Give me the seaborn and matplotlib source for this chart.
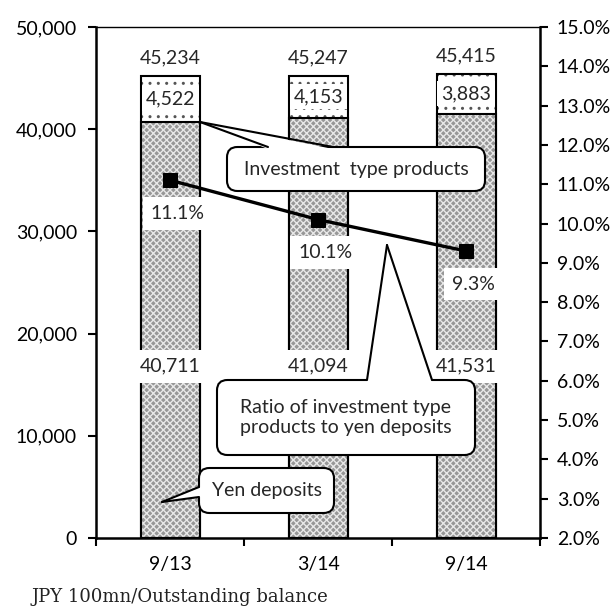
import matplotlib
matplotlib.use("Agg")
import matplotlib.pyplot as plt
import matplotlib.ticker as mticker
from matplotlib.patches import FancyBboxPatch, Polygon
from matplotlib.lines import Line2D
import seaborn as sns
import pandas as pd
import numpy as np

categories = ["9/13", "3/14", "9/14"]
yen_deposits = [40711, 41094, 41531]
investment = [4522, 4153, 3883]
totals = [45234, 45247, 45415]
ratio = [11.1, 10.1, 9.3]
ratio_labels = ["11.1%", "10.1%", "9.3%"]
footer = "JPY 100mn/Outstanding balance"

sns.set_theme(style="white")
plt.rcParams["font.family"] = ["Lato", "DejaVu Sans"]
plt.rcParams["hatch.linewidth"] = 1.0

df = pd.DataFrame({"cat": categories, "yen": yen_deposits, "inv": investment,
                   "total": totals, "ratio": ratio})

W, H = 614, 608
fig = plt.figure(figsize=(W / 100, H / 100), dpi=100)
ax = fig.add_axes([96.5 / W, 1 - 538 / H, (540 - 96.5) / W, (538 - 27) / H])

FS = 14
BW = 0.4
# top segment (investment type products) - total bar with dotted fill
sns.barplot(data=df, x="cat", y="total", order=categories, ax=ax, width=BW,
            color="white", edgecolor="#555555", hatch="..", linewidth=0, saturation=1)
# yen deposits - grey patterned
sns.barplot(data=df, x="cat", y="yen", order=categories, ax=ax, width=BW,
            color="#979797", edgecolor="#e8e8e8", hatch="xxxxx", linewidth=0, saturation=1)
# outlines
sns.barplot(data=df, x="cat", y="total", order=categories, ax=ax, width=BW,
            fill=False, edgecolor="black", linewidth=1.5)
sns.barplot(data=df, x="cat", y="yen", order=categories, ax=ax, width=BW,
            fill=False, edgecolor="black", linewidth=1.5)

ax.set_xlim(-0.5, 2.5)
ax.set_ylim(0, 50000)
ax.yaxis.set_major_locator(mticker.MultipleLocator(10000))
ax.yaxis.set_major_formatter(mticker.FuncFormatter(lambda v, p: f"{int(v):,}"))
ax.set_xlabel("")
ax.set_ylabel("")
ax.xaxis.set_minor_locator(mticker.FixedLocator([-0.5, 0.5, 1.5, 2.5]))
ax.tick_params(axis="x", which="major", length=0, pad=13, labelsize=FS, colors="black")
ax.tick_params(axis="x", which="minor", length=6, width=1.5, direction="out", bottom=True, color="black")
ax.tick_params(axis="y", length=6, width=1.5, direction="out", left=True, labelsize=FS,
               colors="black", pad=8)
for s in ["left", "bottom", "right"]:
    ax.spines[s].set_linewidth(1.8)
    ax.spines[s].set_color("black")
ax.spines["top"].set_linewidth(1.0)
ax.spines["top"].set_color("black")

# value labels
for i in range(len(categories)):
    ax.text(i, totals[i] + 1750, f"{totals[i]:,}", ha="center", va="center", fontsize=FS, zorder=6)
    ax.text(i, yen_deposits[i] + investment[i] / 2, f"{investment[i]:,}", ha="center", va="center",
            fontsize=FS, zorder=6,
            bbox=dict(boxstyle="square,pad=0.2", fc="white", ec="none"))
    ax.text(i, 16800, f"{yen_deposits[i]:,}", ha="center", va="center", fontsize=FS, zorder=6,
            bbox=dict(boxstyle="square,pad=0.4", fc="white", ec="none"))

ax2 = ax.twinx()
sns.lineplot(data=df, x="cat", y="ratio", ax=ax2, color="black", linewidth=2.4,
             marker="s", markersize=10, markeredgecolor="black", markerfacecolor="black")
ax2.set_ylim(2, 15)
ax2.set_xlim(-0.5, 2.5)
ax2.yaxis.set_major_locator(mticker.MultipleLocator(1))
ax2.yaxis.set_major_formatter(mticker.FuncFormatter(lambda v, p: f"{v:.1f}%"))
ax2.set_ylabel("")
ax2.set_xlabel("")
ax2.tick_params(axis="y", length=6, width=1.5, direction="out", right=True, labelsize=FS,
                colors="black", pad=6)
for s in ax2.spines.values():
    s.set_visible(False)

for i in range(len(categories)):
    ax2.annotate(ratio_labels[i], xy=(i, ratio[i]), xytext=(7, -33), textcoords="offset pixels",
                 ha="center", va="center", fontsize=FS, zorder=6,
                 bbox=dict(boxstyle="square,pad=0.4", fc="white", ec="none"))


def F(px, py):
    return (px / W, 1 - py / H)


def callout(x0, y0, x1, y1, tip, ba, bb, text, inset):
    fx0, fy1 = F(x0, y1)
    fx1, fy0 = F(x1, y0)
    box = FancyBboxPatch((fx0, fy1), fx1 - fx0, fy0 - fy1,
                         boxstyle="round,pad=0,rounding_size=0.017",
                         transform=fig.transFigure, fc="white", ec="black", lw=1.5, zorder=20)
    fig.add_artist(box)
    dx, dy = inset
    tri = Polygon([F(*tip), F(ba[0] + dx, ba[1] + dy), F(bb[0] + dx, bb[1] + dy)],
                  closed=True, transform=fig.transFigure, fc="white", ec="none", zorder=21)
    fig.add_artist(tri)
    for b in (ba, bb):
        p0, p1 = F(*tip), F(*b)
        fig.add_artist(Line2D([p0[0], p1[0]], [p0[1], p1[1]], transform=fig.transFigure,
                              color="black", lw=1.5, zorder=22))
    cx, cy = F((x0 + x1) / 2, (y0 + y1) / 2)
    fig.text(cx, cy, text, ha="center", va="center", fontsize=FS, zorder=23, linespacing=1.2)


callout(227, 147, 485, 191, (200, 122), (268, 147), (333, 147), "Investment  type products", (0, 2))
callout(217, 380, 475, 455, (387, 245), (367, 380), (432, 380),
        "Ratio of investment type\nproducts to yen deposits", (0, 2))
callout(199, 468, 334, 513, (162, 502), (199, 487), (199, 497), "Yen deposits", (2, 0))

fx, fy = F(31, 597)
fig.text(fx, fy, footer, ha="left", va="center", fontsize=13,
         family=["DejaVu Serif"], color="#222222")

fig.savefig("out.png", dpi=100)
